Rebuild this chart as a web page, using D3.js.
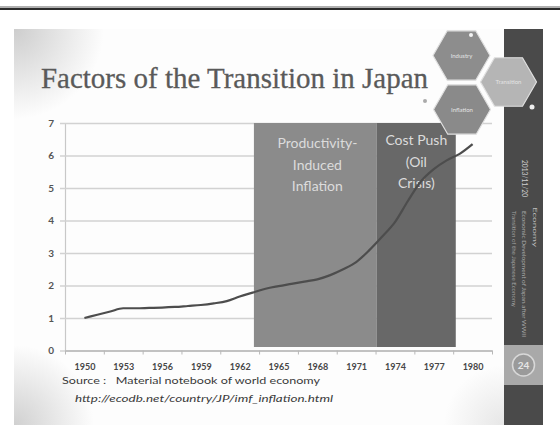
<!DOCTYPE html>
<html>
<head>
<meta charset="utf-8">
<script src="https://cdn.jsdelivr.net/npm/d3@7/dist/d3.min.js"></script>
<style>
  html, body { margin: 0; padding: 0; background: #fff; }
  svg { display: block; }
</style>
</head>
<body>
<svg id="slide" width="560" height="439"></svg>
<script>
// Consumer price level in Japan, 1950 = 1
const years = d3.range(1950, 1981);
const priceIndex = [
  1.00, 1.10, 1.20, 1.30, 1.30, 1.31, 1.32, 1.34, 1.37, 1.40,
  1.45, 1.52, 1.66, 1.78, 1.90, 1.98, 2.05, 2.12, 2.19, 2.32,
  2.50, 2.72, 3.08, 3.50, 3.95, 4.60, 5.20, 5.58, 5.85, 6.05,
  6.35
];
const yearLabels = [1950, 1953, 1956, 1959, 1962, 1965, 1968, 1971, 1974, 1977, 1980];
const valueTicks = [0, 1, 2, 3, 4, 5, 6, 7];

// Periods highlighted behind the curve
const periodNames = [["Productivity-", "Induced", "Inflation"], ["Cost Push", "(Oil", "Crisis)"]];
const periodStart = [1963.1, 1972.6];
const periodEnd = [1972.6, 1978.7];

const titleText = "Factors of the Transition in Japan";
const sourceText = "Source :   Material notebook of world economy";
const urlText = "http://ecodb.net/country/JP/imf_inflation.html";
const hexLabels = ["Industry", "Transition", "Inflation"];
const sideNotes = ["2013/11/20", "Economy", "Economic Development of Japan after WWII", "Transition of the Japanese Economy"];

const svg = d3.select("#slide");
const defs = svg.append("defs");

// ---- page frame ----
svg.append("rect").attr("x", 0).attr("y", 6).attr("width", 560).attr("height", 2).attr("fill", "#b0b0b0");
svg.append("rect").attr("x", 0).attr("y", 8).attr("width", 560).attr("height", 2).attr("fill", "#2b2b2b");

// slide background with soft corner shading
const slide = { x: 14, y: 29, w: 490, h: 396 };
svg.append("rect").attr("x", slide.x).attr("y", slide.y).attr("width", slide.w).attr("height", slide.h).attr("fill", "#fdfdfd");

function shade(id, cx, cy, r, op) {
  const g = defs.append("radialGradient").attr("id", id)
    .attr("gradientUnits", "userSpaceOnUse").attr("cx", cx).attr("cy", cy).attr("r", r);
  g.append("stop").attr("offset", "0").attr("stop-color", "#bdbdbd").attr("stop-opacity", op);
  g.append("stop").attr("offset", "1").attr("stop-color", "#bdbdbd").attr("stop-opacity", 0);
  svg.append("rect").attr("x", slide.x).attr("y", slide.y).attr("width", slide.w).attr("height", slide.h)
    .attr("fill", `url(#${id})`);
}
shade("shTL", slide.x, slide.y, 90, 0.75);
shade("shBL", slide.x, slide.y + slide.h, 80, 0.7);
shade("shBR", slide.x + slide.w, slide.y + slide.h, 60, 0.35);

// right side bar
svg.append("rect").attr("x", 504).attr("y", 29).attr("width", 39).attr("height", 396).attr("fill", "#4a4a4a");
svg.append("rect").attr("x", 504).attr("y", 345).attr("width", 39).attr("height", 40).attr("fill", "#a9a9a9");
svg.append("circle").attr("cx", 523.5).attr("cy", 365).attr("r", 11).attr("fill", "#9a9a9a")
  .attr("stroke", "#d8d8d8").attr("stroke-width", 1.5);
svg.append("text").attr("x", 523.5).attr("y", 368.5).attr("text-anchor", "middle")
  .attr("font-family", "Lato, sans-serif").attr("font-size", 10).attr("font-weight", "bold")
  .attr("fill", "#e6e6e6").text("24");

const notePos = [[522, 160, 37, 7, "#cfcfcf"], [533, 207, 40, 5, "#bdbdbd"], [522, 211, 126, 5, "#a9a9a9"], [512, 211, 96, 5, "#a0a0a0"]];
sideNotes.forEach((t, i) => {
  const [nx, ny, len, fs, col] = notePos[i];
  svg.append("text").attr("transform", `translate(${nx},${ny}) rotate(90)`)
    .attr("font-family", "Lato, sans-serif").attr("font-size", fs).attr("fill", col)
    .attr("textLength", len).attr("lengthAdjust", "spacingAndGlyphs").text(t);
});

// ---- title ----
svg.append("text").attr("x", 41).attr("y", 88)
  .attr("font-family", "'Liberation Serif', 'DejaVu Serif', serif").attr("font-size", 29)
  .attr("fill", "#5a5a5a").attr("stroke", "#5a5a5a").attr("stroke-width", 0.3)
  .attr("textLength", 387).attr("lengthAdjust", "spacingAndGlyphs")
  .text(titleText);

// ---- chart ----
const x = d3.scaleLinear().domain([1948.5, 1981.5]).range([65, 492]);
const y = d3.scaleLinear().domain([0, 7]).range([350.5, 123]);

// horizontal gridlines and value labels
const yAxis = svg.append("g").attr("transform", `translate(${x.range()[0]},0)`)
  .call(d3.axisLeft(y).tickValues(valueTicks).tickFormat(d3.format("d"))
    .tickSizeInner(-(x.range()[1] - x.range()[0])).tickSizeOuter(0).tickPadding(11));
yAxis.select(".domain").attr("stroke", "#c8c8c8").attr("stroke-width", 1.2);
yAxis.selectAll(".tick line").attr("x1", -5).attr("stroke", "#d2d2d2").attr("stroke-width", 1.6);
yAxis.selectAll(".tick text").attr("font-family", "Lato, sans-serif").attr("font-size", 10)
  .attr("font-weight", "bold").attr("fill", "#555");

// x axis line with separators between label groups
const sepYears = d3.range(1948.5, 1982, 3);
const xAxis = svg.append("g").attr("transform", `translate(0,${y(0)})`)
  .call(d3.axisBottom(x).tickValues(sepYears).tickSizeInner(4).tickSizeOuter(0).tickFormat(""));
xAxis.select(".domain").attr("stroke", "#b8b8b8").attr("stroke-width", 1.4);
xAxis.selectAll(".tick line").attr("stroke", "#b8b8b8").attr("stroke-width", 1);

const xLabels = svg.append("g").attr("transform", `translate(0,${y(0)})`)
  .call(d3.axisBottom(x).tickValues(yearLabels).tickSize(0).tickPadding(13).tickFormat(d3.format("d")));
xLabels.select(".domain").remove();
xLabels.selectAll(".tick text").attr("font-family", "Lato, sans-serif").attr("font-size", 9)
  .attr("font-weight", "bold").attr("fill", "#474747");

// highlighted periods
const periodFill = ["#8b8b8b", "#686868"];
const bandTop = y(7), bandBottom = y(0) - 3.5;
periodNames.forEach((lines, i) => {
  const x0 = x(periodStart[i]), x1 = x(periodEnd[i]);
  svg.append("rect").attr("x", x0).attr("y", bandTop).attr("width", x1 - x0).attr("height", bandBottom - bandTop)
    .attr("fill", periodFill[i]);
  const t = svg.append("text").attr("text-anchor", "middle")
    .attr("font-family", "Lato, 'Open Sans', sans-serif").attr("font-size", 14).attr("fill", "#dcdcdc");
  lines.forEach((ln, j) => {
    t.append("tspan").attr("x", (x0 + x1) / 2 + (i === 0 ? 2 : 0)).attr("y", (i === 0 ? 148 : 145) + j * 21.5).text(ln);
  });
});

// price curve
const line = d3.line().x((d, i) => x(years[i])).y(d => y(d)).curve(d3.curveMonotoneX);
svg.append("path").datum(priceIndex).attr("d", line)
  .attr("fill", "none").attr("stroke", "#4d4d4d").attr("stroke-width", 2.2).attr("stroke-linejoin", "round");

// source note
svg.append("text").attr("x", 62).attr("y", 384)
  .attr("font-family", "Lato, sans-serif").attr("font-size", 9.5).attr("fill", "#3a3a3a")
  .attr("textLength", 258).attr("lengthAdjust", "spacingAndGlyphs").attr("xml:space", "preserve").text(sourceText);
svg.append("text").attr("x", 75).attr("y", 402)
  .attr("font-family", "Lato, sans-serif").attr("font-size", 9.5).attr("font-style", "italic").attr("fill", "#3a3a3a")
  .attr("textLength", 258).attr("lengthAdjust", "spacingAndGlyphs").text(urlText);

// ---- hexagon ornament ----
const hexes = [
  { cx: 461.5, cy: 55.5, r: 28.5, fill: "#8d8d8d" },
  { cx: 508.5, cy: 82, r: 28, fill: "#b5b5b5" },
  { cx: 462, cy: 109.5, r: 28.5, fill: "#8a8a8a" }
];
const hexPath = h => d3.line()(d3.range(6).map(k => [h.cx + h.r * Math.cos(k * Math.PI / 3), h.cy + h.r * Math.sin(k * Math.PI / 3)])) + "Z";
hexes.forEach((h, i) => {
  svg.append("path").attr("d", hexPath(h)).attr("fill", h.fill).attr("stroke", "#e0e0e0").attr("stroke-width", 1.2);
  svg.append("text").attr("x", h.cx).attr("y", h.cy + 2).attr("text-anchor", "middle")
    .attr("font-family", "Lato, sans-serif").attr("font-size", 6).attr("fill", "#e4e4e4").text(hexLabels[i]);
});
svg.append("circle").attr("cx", 471).attr("cy", 35).attr("r", 2).attr("fill", "#f2f2f2");
svg.append("circle").attr("cx", 532).attr("cy", 107).attr("r", 2.5).attr("fill", "#eeeeee");
svg.append("circle").attr("cx", 425).attr("cy", 101).attr("r", 2).attr("fill", "#aaaaaa");
</script>
</body>
</html>
